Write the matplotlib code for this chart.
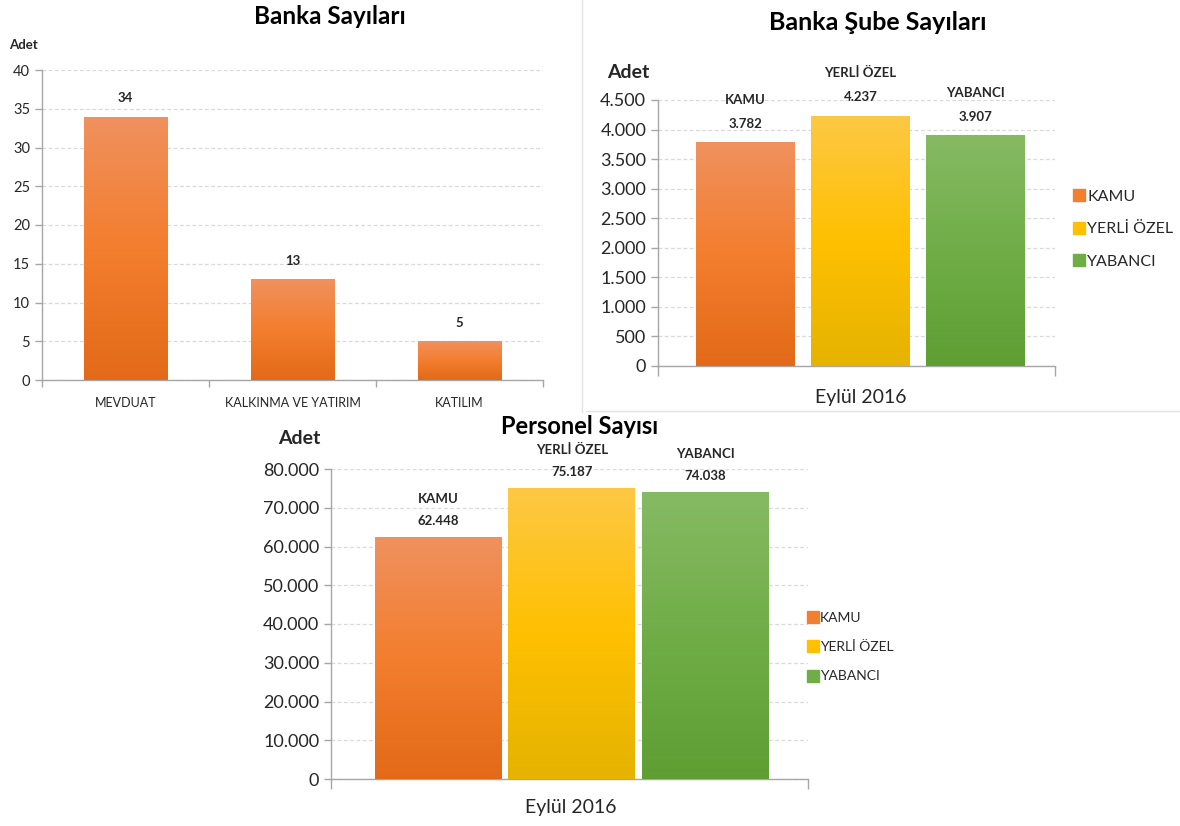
import matplotlib
matplotlib.use("Agg")
import matplotlib.pyplot as plt
import numpy as np
from matplotlib.colors import LinearSegmentedColormap
from matplotlib.lines import Line2D

plt.rcParams['font.family'] = ['Lato', 'DejaVu Sans']

# ---------------- data ----------------
bank_types = ["MEVDUAT", "KALKINMA VE YATIRIM", "KATILIM"]
bank_counts = [34, 13, 5]

groups = ["KAMU", "YERLİ ÖZEL", "YABANCI"]
branch_counts = [3782, 4237, 3907]
staff_counts = [62448, 75187, 74038]

period = "Eylül 2016"
bank_ticks = [0, 5, 10, 15, 20, 25, 30, 35, 40]
branch_ticks = [0, 500, 1000, 1500, 2000, 2500, 3000, 3500, 4000, 4500]
staff_ticks = [0, 10000, 20000, 30000, 40000, 50000, 60000, 70000, 80000]

# ---------------- style ----------------
W, H = 1180, 826
DPI = 100
GRAD = {
    "orange": ["#F0915E", "#F37E2E", "#E26A18"],
    "yellow": ["#FDC845", "#FFC000", "#E5B300"],
    "green":  ["#86BA64", "#70AD47", "#5E9E33"],
}
group_colors = ["orange", "yellow", "green"]
TEXT = "#262626"
AXC = "#A6A6A6"
GRID = "#D9D9D9"

fig = plt.figure(figsize=(W / DPI, H / DPI), dpi=DPI)
fig.patch.set_facecolor("white")


def px_axes(l, t, r, b):
    return fig.add_axes([l / W, 1 - b / H, (r - l) / W, (b - t) / H])


def ftext(x, y, s, **kw):
    fig.text(x / W, 1 - y / H, s, **kw)


def tr_fmt(v):
    return f"{v:,}".replace(",", ".")


def gradient_fill(ax, bars, cname):
    cmap = LinearSegmentedColormap.from_list(cname, GRAD[cname][::-1])
    grad = np.linspace(1, 0, 256).reshape(-1, 1)
    for p in bars.patches:
        x0, y0 = p.get_x(), p.get_y()
        w, h = p.get_width(), p.get_height()
        im = ax.imshow(grad, extent=[x0, x0 + w, y0, y0 + h], aspect="auto",
                       cmap=cmap, vmin=0, vmax=1, zorder=3, interpolation="bicubic")
        im.set_clip_path(p)


def style_axes(ax):
    for s in ["top", "right"]:
        ax.spines[s].set_visible(False)
    for s in ["left", "bottom"]:
        ax.spines[s].set_color(AXC)
        ax.spines[s].set_linewidth(1.0)
    ax.yaxis.grid(True, color=GRID, linestyle=(0, (3, 2)), linewidth=0.9)
    ax.set_axisbelow(True)
    ax.tick_params(axis="y", colors=AXC, labelcolor=TEXT, length=5, width=1)


# ---------------- chart 1: Banka Sayıları ----------------
ax1 = px_axes(42, 70, 543, 380)
style_axes(ax1)
x1 = np.arange(len(bank_types))
b1 = ax1.bar(x1, bank_counts, width=0.5, color=GRAD["orange"][1], zorder=2)
gradient_fill(ax1, b1, "orange")
ax1.set_xlim(-0.5, len(bank_types) - 0.5)
ax1.set_ylim(bank_ticks[0], bank_ticks[-1])
ax1.set_yticks(bank_ticks)
ax1.tick_params(axis="y", labelsize=10.5)
ax1.set_xticks(x1)
ax1.set_xticklabels(bank_types, fontsize=9, color=TEXT)
ax1.tick_params(axis="x", length=0, pad=12)
ax1.set_xticks(np.arange(-0.5, len(bank_types)), minor=True)
ax1.tick_params(axis="x", which="minor", length=5, color=AXC, width=1)
for xi, v in zip(x1, bank_counts):
    ax1.annotate(str(v), (xi, v), xytext=(0, 9), textcoords="offset points",
                 ha="center", va="bottom", fontsize=9.5, fontweight="bold", color=TEXT)
ftext(330, 17, "Banka Sayıları", ha="center", va="center", fontsize=17.5,
      fontweight="bold", color="black")
ftext(9, 45, "Adet", ha="left", va="center", fontsize=9.5, fontweight="bold", color=TEXT)


# ---------------- grouped charts ----------------
def grouped(ax, values, ticks, xlim, width, val_fs, val_ls, tick_fs, offset, legend_anchor,
            legend_fs, legend_spacing):
    style_axes(ax)
    xs = np.arange(len(groups))
    for i, (g, v) in enumerate(zip(groups, values)):
        c = ax.bar(xs[i], v, width=width, color=GRAD[group_colors[i]][1], label=g, zorder=2)
        gradient_fill(ax, c, group_colors[i])
        ax.annotate(f"{g}\n{tr_fmt(v)}", (xs[i], v), xytext=(0, offset),
                    textcoords="offset points", ha="center", va="bottom",
                    fontsize=val_fs, fontweight="bold", color=TEXT, linespacing=val_ls)
    ax.set_xlim(*xlim)
    ax.set_ylim(ticks[0], ticks[-1])
    ax.set_yticks(ticks)
    ax.set_yticklabels([tr_fmt(t) for t in ticks], fontsize=tick_fs)
    ax.set_xticks(list(xlim))
    ax.set_xticklabels(["", ""])
    ax.tick_params(axis="x", length=7, color=AXC, width=1)
    ax.legend(handles=[Line2D([], [], marker="s", linestyle="none", markersize=8.5,
                              markerfacecolor=GRAD[group_colors[i]][1],
                              markeredgecolor=GRAD[group_colors[i]][1])
                       for i in range(len(groups))],
              labels=groups, loc="center left", bbox_to_anchor=legend_anchor,
              bbox_transform=fig.transFigure, frameon=False, fontsize=legend_fs,
              handletextpad=0.05, labelspacing=legend_spacing, borderpad=0,
              borderaxespad=0, handlelength=0.9, labelcolor=TEXT)


ax2 = px_axes(658, 100, 1055, 366)
grouped(ax2, branch_counts, branch_ticks, (-0.761, 2.69), 0.86, 9.5, 2.2, 13, 9,
        (1072 / W, 1 - 229 / H), 11.5, 1.15)
ftext(878, 22, "Banka Şube Sayıları", ha="center", va="center", fontsize=18,
      fontweight="bold", color="black")
ftext(607, 72, "Adet", ha="left", va="center", fontsize=14, fontweight="bold", color=TEXT)
ftext(861, 398, period, ha="center", va="center", fontsize=14, color=TEXT)

ax3 = px_axes(331, 469, 808, 779)
grouped(ax3, staff_counts, staff_ticks, (-0.805, 2.768), 0.951, 9.5, 2.0, 13, 7,
        (807 / W, 1 - 647 / H), 10, 1.25)
ftext(580, 426, "Personel Sayısı", ha="center", va="center", fontsize=17,
      fontweight="bold", color="black")
ftext(278, 438, "Adet", ha="left", va="center", fontsize=14, fontweight="bold", color=TEXT)
ftext(571, 808, period, ha="center", va="center", fontsize=14, color=TEXT)

# faint panel separators
fig.add_artist(Line2D([582 / W, 582 / W], [1 - 0 / H, 1 - 412 / H], transform=fig.transFigure,
                      color="#E3E3E3", linewidth=1))
fig.add_artist(Line2D([586 / W, 1], [1 - 411 / H, 1 - 411 / H], transform=fig.transFigure,
                      color="#E3E3E3", linewidth=1))

fig.savefig("out.png", dpi=DPI, facecolor="white")
